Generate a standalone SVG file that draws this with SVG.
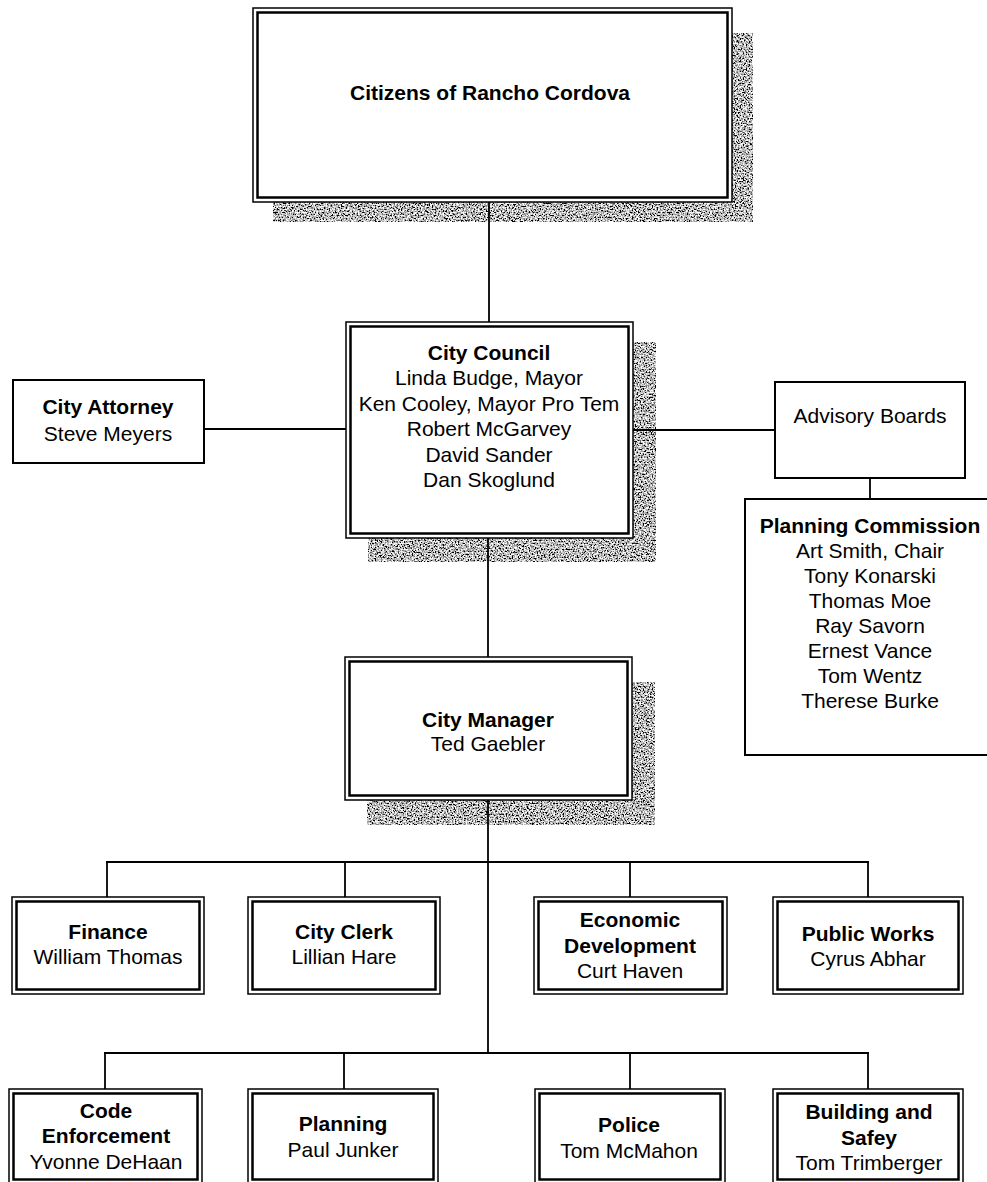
<svg xmlns="http://www.w3.org/2000/svg" width="987" height="1182" viewBox="0 0 987 1182">
<style>
text{font-family:"Liberation Sans",Arial,sans-serif;font-size:21px;fill:#000;text-anchor:middle}
.b{font-weight:bold}
.o{fill:#fff;stroke:#000;stroke-width:1.5}
.i{fill:none;stroke:#000;stroke-width:2.5}
.s{fill:#fff;stroke:#000;stroke-width:2}
.sh{fill:#888;filter:url(#grain)}
#connectors line{stroke:#000;stroke-width:1.8}
</style>
<defs>
<filter id="grain" x="0%" y="0%" width="100%" height="100%">
<feTurbulence type="fractalNoise" baseFrequency="0.65" numOctaves="2" seed="7" result="noise"/>
<feColorMatrix in="noise" type="matrix" values="3.2 0 0 0 -1.1  3.2 0 0 0 -1.1  3.2 0 0 0 -1.1  0 0 0 0 1" result="g"/>
<feComposite in="g" in2="SourceGraphic" operator="in"/>
</filter>
</defs>
<rect width="987" height="1182" fill="#fff"/>
<g id="shadows">
<rect class="sh" x="273" y="33" width="480" height="189"/>
<rect class="sh" x="368" y="342" width="288" height="220"/>
<rect class="sh" x="367" y="682" width="288" height="143"/>
</g>
<g id="connectors">
<line x1="489" y1="202" x2="489" y2="322"/>
<line x1="204" y1="429" x2="346" y2="429"/>
<line x1="633" y1="430" x2="775" y2="430"/>
<line x1="870" y1="478" x2="870" y2="499"/>
<line x1="488" y1="538" x2="488" y2="657"/>
<line x1="488" y1="800" x2="488" y2="1053"/>
<line x1="106" y1="862" x2="869" y2="862"/>
<line x1="107" y1="862" x2="107" y2="897"/>
<line x1="345" y1="862" x2="345" y2="898"/>
<line x1="630" y1="862" x2="630" y2="898"/>
<line x1="868" y1="862" x2="868" y2="898"/>
<line x1="104" y1="1053" x2="869" y2="1053"/>
<line x1="105" y1="1053" x2="105" y2="1089"/>
<line x1="344" y1="1053" x2="344" y2="1089"/>
<line x1="630" y1="1053" x2="630" y2="1089"/>
<line x1="868" y1="1053" x2="868" y2="1089"/>
</g>
<g id="citizens">
<rect class="o" x="253" y="8" width="479" height="194"/>
<rect class="i" x="257.5" y="12.5" width="470" height="185"/>
<text class="b" x="490" y="100">Citizens of Rancho Cordova</text>
</g>
<g id="council">
<rect class="o" x="346" y="322" width="287" height="216"/>
<rect class="i" x="350.5" y="326.5" width="278" height="207"/>
<text class="b" x="489" y="360">City Council</text>
<text x="489" y="385">Linda Budge, Mayor</text>
<text x="489" y="411">Ken Cooley, Mayor Pro Tem</text>
<text x="489" y="436">Robert McGarvey</text>
<text x="489" y="462">David Sander</text>
<text x="489" y="487">Dan Skoglund</text>
</g>
<g id="attorney">
<rect class="s" x="13" y="380" width="191" height="83"/>
<text class="b" x="108" y="414">City Attorney</text>
<text x="108" y="441">Steve Meyers</text>
</g>
<g id="advisory">
<rect class="s" x="775" y="382" width="190" height="96"/>
<text x="870" y="423">Advisory Boards</text>
</g>
<g id="planning-commission">
<rect class="s" x="745" y="499" width="250" height="256"/>
<text class="b" x="870" y="533">Planning Commission</text>
<text x="870" y="558">Art Smith, Chair</text>
<text x="870" y="583">Tony Konarski</text>
<text x="870" y="608">Thomas Moe</text>
<text x="870" y="633">Ray Savorn</text>
<text x="870" y="658">Ernest Vance</text>
<text x="870" y="683">Tom Wentz</text>
<text x="870" y="708">Therese Burke</text>
</g>
<g id="manager">
<rect class="o" x="345" y="657" width="287" height="143"/>
<rect class="i" x="349.5" y="661.5" width="278" height="134"/>
<text class="b" x="488" y="727">City Manager</text>
<text x="488" y="751">Ted Gaebler</text>
</g>
<g id="finance">
<rect class="o" x="12" y="897" width="192" height="97"/>
<rect class="i" x="16.5" y="901.5" width="183" height="88"/>
<text class="b" x="108" y="939">Finance</text>
<text x="108" y="964">William Thomas</text>
</g>
<g id="city-clerk">
<rect class="o" x="248" y="897" width="192" height="97"/>
<rect class="i" x="252.5" y="901.5" width="183" height="88"/>
<text class="b" x="344" y="939">City Clerk</text>
<text x="344" y="964">Lillian Hare</text>
</g>
<g id="economic-development">
<rect class="o" x="534" y="897" width="193" height="97"/>
<rect class="i" x="538.5" y="901.5" width="184" height="88"/>
<text class="b" x="630" y="927">Economic</text>
<text class="b" x="630" y="953">Development</text>
<text x="630" y="978">Curt Haven</text>
</g>
<g id="public-works">
<rect class="o" x="773" y="897" width="190" height="97"/>
<rect class="i" x="777.5" y="901.5" width="181" height="88"/>
<text class="b" x="868" y="941">Public Works</text>
<text x="868" y="966">Cyrus Abhar</text>
</g>
<g id="code-enforcement">
<rect class="o" x="9" y="1089" width="193" height="96"/>
<rect class="i" x="13.5" y="1093.5" width="184" height="86"/>
<text class="b" x="106" y="1118">Code</text>
<text class="b" x="106" y="1143">Enforcement</text>
<text x="106" y="1169">Yvonne DeHaan</text>
</g>
<g id="planning">
<rect class="o" x="248" y="1089" width="190" height="96"/>
<rect class="i" x="252.5" y="1093.5" width="181" height="86"/>
<text class="b" x="343" y="1131">Planning</text>
<text x="343" y="1157">Paul Junker</text>
</g>
<g id="police">
<rect class="o" x="535" y="1089" width="190" height="96"/>
<rect class="i" x="539.5" y="1093.5" width="181" height="86"/>
<text class="b" x="629" y="1132">Police</text>
<text x="629" y="1158">Tom McMahon</text>
</g>
<g id="building-safety">
<rect class="o" x="773" y="1089" width="190" height="96"/>
<rect class="i" x="777.5" y="1093.5" width="181" height="86"/>
<text class="b" x="869" y="1119">Building and</text>
<text class="b" x="869" y="1145">Safey</text>
<text x="869" y="1170">Tom Trimberger</text>
</g>
</svg>
